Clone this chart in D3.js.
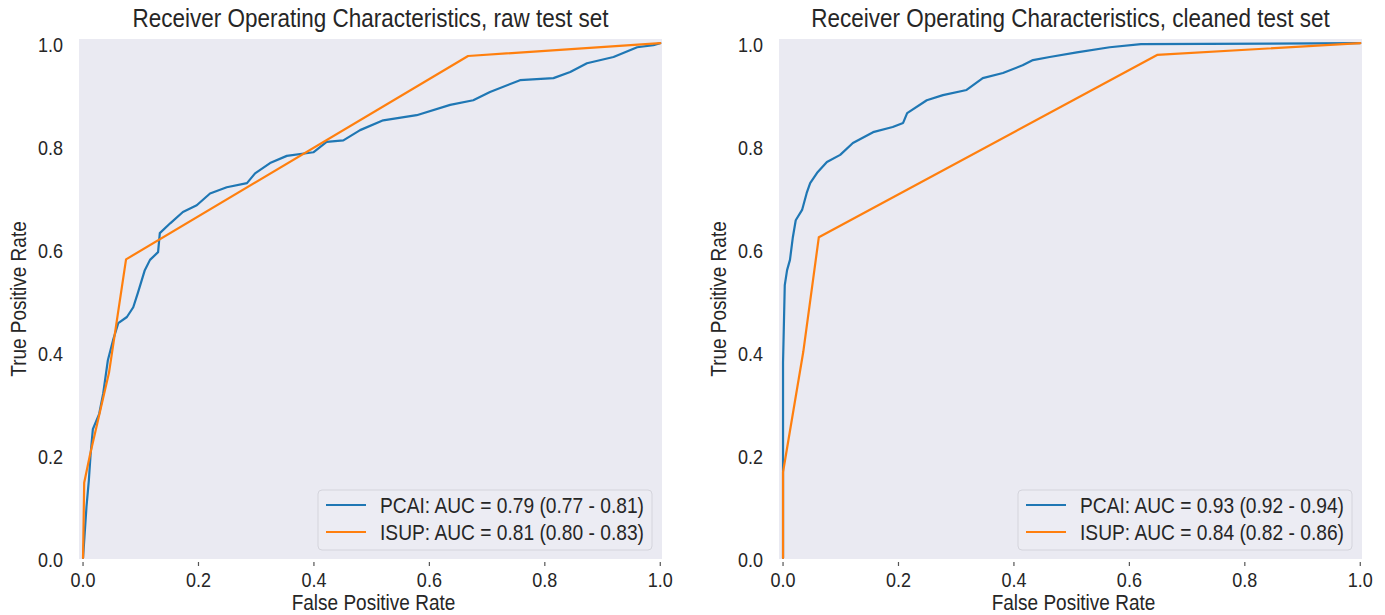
<!DOCTYPE html>
<html><head><meta charset="utf-8">
<script src="https://cdn.jsdelivr.net/npm/d3@7"></script>
<style>body{margin:0;background:#fff}</style>
</head><body>
<svg id="c" width="1385" height="615"></svg>
<script>
// ---------- data ----------
const tickValues = [0.0, 0.2, 0.4, 0.6, 0.8, 1.0];
const titles = ["Receiver Operating Characteristics, raw test set",
                "Receiver Operating Characteristics, cleaned test set"];
const seriesNames = ["PCAI", "ISUP"];
const legendRaw = ["PCAI: AUC = 0.79 (0.77 - 0.81)", "ISUP: AUC = 0.81 (0.80 - 0.83)"];
const legendClean = ["PCAI: AUC = 0.93 (0.92 - 0.94)", "ISUP: AUC = 0.84 (0.82 - 0.86)"];

const rawPcaiFpr = [0,0.003,0.006,0.010,0.013,0.017,0.028,0.035,0.043,0.052,0.061,0.076,0.087,0.095,0.107,0.116,0.130,0.133,0.151,0.173,0.197,0.220,0.249,0.284,0.298,0.324,0.353,0.399,0.422,0.451,0.480,0.520,0.578,0.636,0.676,0.705,0.757,0.815,0.844,0.873,0.919,0.960,0.988,1.0];
const rawPcaiTpr = [0,0.05,0.10,0.15,0.20,0.25,0.28,0.32,0.384,0.423,0.456,0.468,0.487,0.515,0.559,0.579,0.594,0.631,0.650,0.672,0.685,0.708,0.720,0.728,0.747,0.767,0.781,0.788,0.808,0.811,0.831,0.850,0.860,0.880,0.889,0.905,0.928,0.932,0.944,0.961,0.973,0.992,0.996,1.0];
const rawIsupFpr = [0,0.002,0.012,0.045,0.0745,0.667,1.0];
const rawIsupTpr = [0,0.146,0.20,0.36,0.58,0.975,1.0];

const cleanPcaiFpr = [0,0,0.003,0.007,0.012,0.017,0.022,0.033,0.041,0.047,0.059,0.076,0.099,0.121,0.156,0.190,0.208,0.215,0.249,0.277,0.318,0.346,0.381,0.415,0.433,0.462,0.509,0.566,0.620,1.0];
const cleanPcaiTpr = [0,0.38,0.53,0.559,0.579,0.623,0.656,0.676,0.709,0.728,0.748,0.769,0.783,0.806,0.827,0.837,0.845,0.864,0.889,0.899,0.909,0.932,0.942,0.957,0.967,0.973,0.982,0.992,0.998,1.0];
const cleanIsupFpr = [0,0,0.035,0.062,0.648,1.0];
const cleanIsupTpr = [0,0.167,0.40,0.623,0.977,1.0];

const colors = ["#1f77b4", "#ff7f0e"];

// ---------- drawing ----------
const svg = d3.select("#c");
const SY = 1.12; // vertical text stretch
const txtCol = "#262626";

function text(g, x, y, str, size, anchor, rotate) {
  return g.append("text")
    .attr("transform", `translate(${x},${y})` + (rotate ? " rotate(-90)" : "") + ` scale(1,${SY})`)
    .attr("text-anchor", anchor || "middle")
    .attr("dominant-baseline", "central")
    .style("font-family", "'Liberation Sans', Arial, sans-serif")
    .style("font-size", size + "px")
    .style("fill", txtCol)
    .text(str);
}

const panels = [
  {left: 79, right: 662, title: titles[0], legend: legendRaw,
   series: [[rawPcaiFpr, rawPcaiTpr], [rawIsupFpr, rawIsupTpr]]},
  {left: 779, right: 1362, title: titles[1], legend: legendClean,
   series: [[cleanPcaiFpr, cleanPcaiTpr], [cleanIsupFpr, cleanIsupTpr]]}
];

panels.forEach(p => {
  const top = 39, bottom = 559;
  const x = d3.scaleLinear().domain([-0.007, 1.003]).range([p.left, p.right]);
  const y = d3.scaleLinear().domain([-0.002, 1.008]).range([bottom, top]);
  const g = svg.append("g");

  g.append("rect").attr("x", p.left).attr("y", top)
    .attr("width", p.right - p.left).attr("height", bottom - top)
    .attr("fill", "#eaeaf2");

  const xa = g.append("g").attr("transform", `translate(0,${bottom})`)
    .call(d3.axisBottom(x).tickValues(tickValues).tickSize(0).tickFormat(""));
  xa.select(".domain").remove();
  tickValues.forEach(v => {
    g.append("line").attr("x1", x(v)).attr("x2", x(v))
      .attr("y1", bottom + 3).attr("y2", bottom + 7)
      .attr("stroke", "#555").attr("stroke-width", 1.2);
    text(g, x(v), 580, d3.format(".1f")(v), 18, "middle");
  });
  const ya = g.append("g").attr("transform", `translate(${p.left},0)`)
    .call(d3.axisLeft(y).tickValues(tickValues).tickSize(0).tickFormat(""));
  ya.select(".domain").remove();
  tickValues.forEach(v => {
    text(g, p.left - 16, y(v) + 2, d3.format(".1f")(v), 18, "end");
  });

  text(g, (p.left + p.right) / 2, 18, p.title, 22.5, "middle");
  text(g, (p.left + p.right) / 2 + 3, 603, "False Positive Rate", 19, "middle");
  text(g, p.left - 60, (top + bottom) / 2, "True Positive Rate", 19, "middle", true);

  const line = d3.line().x(d => x(d[0])).y(d => y(d[1]));
  p.series.forEach((s, i) => {
    const pts = s[0].map((f, k) => [f, s[1][k]]);
    g.append("path").attr("d", line(pts)).attr("fill", "none")
      .attr("stroke", colors[i]).attr("stroke-width", 2.2)
      .attr("stroke-linejoin", "round").attr("stroke-linecap", "round");
  });

  const lx = p.right - 344, ly = 490;
  g.append("rect").attr("x", lx).attr("y", ly).attr("width", 334).attr("height", 60)
    .attr("rx", 4).attr("fill", "#ececf3").attr("fill-opacity", 0.9)
    .attr("stroke", "#d4d4dc").attr("stroke-width", 1);
  p.legend.forEach((lab, i) => {
    const yy = ly + 15 + i * 27;
    g.append("line").attr("x1", lx + 8).attr("x2", lx + 48).attr("y1", yy).attr("y2", yy)
      .attr("stroke", colors[i]).attr("stroke-width", 2.2);
    text(g, lx + 62, yy + 1, lab, 19.2, "start");
  });
});
</script>
</body></html>
